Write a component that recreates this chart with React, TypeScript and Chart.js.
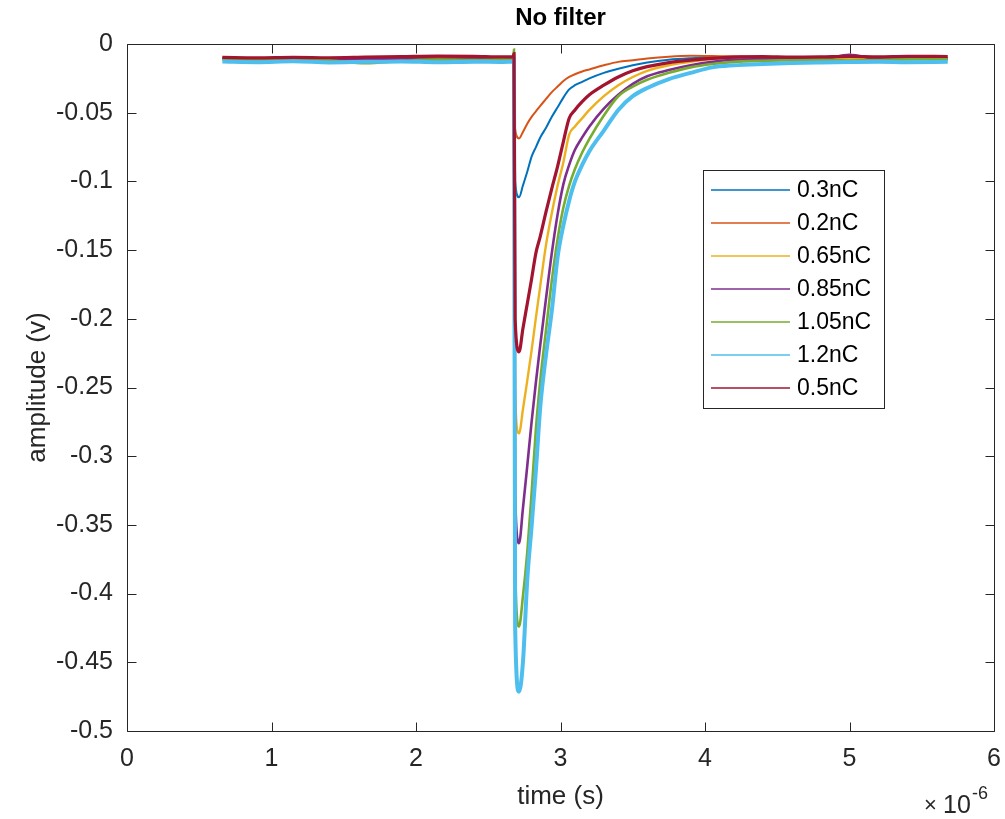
import React, { useEffect, useRef } from 'react';
import { Chart, registerables } from 'chart.js';

Chart.register(...registerables);

// ---------- data (time in microseconds, amplitude in volts) ----------
const timeUs = [
  0.66, 0.9, 1.15, 1.4, 1.65, 1.9, 2.15, 2.4, 2.6,
  2.672, 2.678, 2.686,
  2.713, 2.74, 2.77, 2.8, 2.83, 2.86, 2.9, 2.94, 2.98, 3.02, 3.06, 3.1, 3.15, 3.2,
  3.3, 3.4, 3.5, 3.6, 3.75, 3.9, 4.05, 4.2,
  4.4, 4.6, 4.8, 5.0, 5.2, 5.4, 5.68,
];

const v03nC = [
  -0.0105, -0.0102, -0.0108, -0.0104, -0.011, -0.0106, -0.0103, -0.0107, -0.0104,
  -0.0105, -0.008, -0.1,
  -0.1116, -0.103, -0.093, -0.082, -0.075, -0.068, -0.061, -0.053, -0.046, -0.039, -0.033, -0.03, -0.0275, -0.025,
  -0.021, -0.018, -0.0155, -0.0135, -0.0115, -0.0104, -0.0097, -0.0095,
  -0.0098, -0.0102, -0.01, -0.0104, -0.0099, -0.0103, -0.0101,
];
const v02nC = [
  -0.01, -0.0104, -0.0099, -0.0106, -0.0102, -0.0108, -0.0101, -0.0104, -0.01,
  -0.0102, -0.0075, -0.062,
  -0.0687, -0.064, -0.058, -0.053, -0.049, -0.045, -0.04, -0.035, -0.031, -0.027, -0.024, -0.022, -0.02, -0.0185,
  -0.0155, -0.013, -0.0118, -0.0105, -0.0092, -0.0086, -0.0088, -0.009,
  -0.0094, -0.0098, -0.0101, -0.0097, -0.0103, -0.01, -0.0102,
];
const v065nC = [
  -0.0108, -0.0112, -0.0106, -0.011, -0.0114, -0.0109, -0.0111, -0.0107, -0.011,
  -0.0109, -0.0085, -0.255,
  -0.2834, -0.266, -0.245, -0.223, -0.199, -0.176, -0.146, -0.123, -0.103, -0.086, -0.066, -0.06, -0.054, -0.048,
  -0.038, -0.03, -0.024, -0.0195, -0.0155, -0.013, -0.011, -0.01,
  -0.0104, -0.0108, -0.011, -0.0106, -0.0111, -0.0107, -0.0109,
];
const v085nC = [
  -0.0106, -0.011, -0.0104, -0.0112, -0.0108, -0.0105, -0.0111, -0.0107, -0.0103,
  -0.0106, -0.008, -0.327,
  -0.3634, -0.338, -0.307, -0.275, -0.246, -0.219, -0.185, -0.152, -0.124, -0.102, -0.088, -0.077, -0.068, -0.06,
  -0.047, -0.037, -0.029, -0.0235, -0.019, -0.0155, -0.013, -0.0115,
  -0.011, -0.0106, -0.0112, -0.0078, -0.0108, -0.0103, -0.0109,
];
const v105nC = [
  -0.0112, -0.0116, -0.011, -0.0118, -0.014, -0.0124, -0.0114, -0.0117, -0.0112,
  -0.0113, -0.004, -0.38,
  -0.424, -0.402, -0.37, -0.327, -0.28, -0.245, -0.208, -0.172, -0.142, -0.119, -0.103, -0.091, -0.079, -0.069,
  -0.052, -0.038, -0.031, -0.026, -0.021, -0.017, -0.0145, -0.013,
  -0.0122, -0.0118, -0.0114, -0.012, -0.0116, -0.0112, -0.011,
];
const v12nC = [
  -0.0128, -0.0132, -0.0126, -0.0134, -0.013, -0.0127, -0.0133, -0.0129, -0.0131,
  -0.0128, -0.011, -0.424,
  -0.4714, -0.45, -0.39, -0.351, -0.31, -0.264, -0.226, -0.194, -0.155, -0.132, -0.114, -0.1, -0.088, -0.078,
  -0.063, -0.048, -0.038, -0.032, -0.0255, -0.021, -0.017, -0.0155,
  -0.0145, -0.0138, -0.0134, -0.0131, -0.0129, -0.0132, -0.013,
];
const v05nC = [
  -0.0098, -0.0101, -0.0097, -0.01, -0.0096, -0.0092, -0.0088, -0.009, -0.0094,
  -0.0093, -0.007, -0.2,
  -0.224, -0.207, -0.189, -0.171, -0.152, -0.14, -0.122, -0.105, -0.089, -0.071, -0.054, -0.048, -0.042, -0.037,
  -0.03, -0.024, -0.0195, -0.0165, -0.0135, -0.0118, -0.0104, -0.0095,
  -0.0092, -0.0096, -0.0094, -0.009, -0.0093, -0.0089, -0.0091,
];

const seriesLabels = ['0.3nC', '0.2nC', '0.65nC', '0.85nC', '1.05nC', '1.2nC', '0.5nC'];
const seriesValues = [v03nC, v02nC, v065nC, v085nC, v105nC, v12nC, v05nC];
const seriesColors = ['#0072BD', '#D95319', '#EDB120', '#7E2F8E', '#77AC30', '#4DBEEE', '#A2142F'];
const seriesWidths = [2, 2, 2.4, 2.6, 2.6, 4, 3.2];

const xTickValues = [0, 1, 2, 3, 4, 5, 6];
const yTickValues = [0, -0.05, -0.1, -0.15, -0.2, -0.25, -0.3, -0.35, -0.4, -0.45, -0.5];

const chartTitle = 'No filter';
const xAxisTitle = 'time (s)';
const yAxisTitle = 'amplitude (v)';

const FONT = '"Liberation Sans", Arial, Helvetica, sans-serif';
const AX = '#262626';

const matlabPlugin = {
  id: 'matlabDecor',
  beforeDraw(chart: any) {
    const { ctx, width, height } = chart;
    ctx.save();
    ctx.fillStyle = '#ffffff';
    ctx.fillRect(0, 0, width, height);
    ctx.restore();
  },
  afterDraw(chart: any) {
    const { ctx, chartArea: a, scales } = chart;
    ctx.save();
    ctx.strokeStyle = AX;
    ctx.lineWidth = 1;
    const L = Math.round(a.left) + 0.5;
    const R = Math.round(a.right) + 0.5;
    const T = Math.round(a.top) + 0.5;
    const B = Math.round(a.bottom) + 0.5;
    ctx.beginPath();
    ctx.rect(L, T, R - L, B - T);
    ctx.stroke();
    const tl = 9;
    ctx.beginPath();
    xTickValues.forEach((v) => {
      const px = Math.round(scales.x.getPixelForValue(v)) + 0.5;
      ctx.moveTo(px, B); ctx.lineTo(px, B - tl);
      ctx.moveTo(px, T); ctx.lineTo(px, T + tl);
    });
    yTickValues.forEach((v) => {
      const py = Math.round(scales.y.getPixelForValue(v)) + 0.5;
      ctx.moveTo(L, py); ctx.lineTo(L + tl, py);
      ctx.moveTo(R, py); ctx.lineTo(R - tl, py);
    });
    ctx.stroke();

    // title
    ctx.fillStyle = '#000000';
    ctx.font = `bold 24px ${FONT}`;
    ctx.textAlign = 'center';
    ctx.textBaseline = 'middle';
    ctx.fillText(chartTitle, (a.left + a.right) / 2, 18);

    // exponent label
    ctx.fillStyle = AX;
    ctx.textAlign = 'left';
    ctx.textBaseline = 'alphabetic';
    ctx.font = `22px ${FONT}`;
    ctx.fillText('\u00d7', 924, 812);
    ctx.font = `25px ${FONT}`;
    ctx.fillText('10', 943, 813);
    ctx.font = `18px ${FONT}`;
    ctx.fillText('-6', 972, 799);

    // legend
    const lx = 703, ly = 170, lw = 181, lh = 238;
    ctx.fillStyle = '#ffffff';
    ctx.fillRect(lx, ly, lw, lh);
    ctx.strokeStyle = AX;
    ctx.lineWidth = 1;
    ctx.strokeRect(lx + 0.5, ly + 0.5, lw, lh);
    ctx.font = `23px ${FONT}`;
    ctx.textBaseline = 'middle';
    seriesLabels.forEach((lab, i) => {
      const y = 190 + i * 33;
      ctx.strokeStyle = seriesColors[i];
      ctx.lineWidth = 1.5;
      ctx.beginPath();
      ctx.moveTo(711, y);
      ctx.lineTo(790, y);
      ctx.stroke();
      ctx.fillStyle = '#000000';
      ctx.fillText(lab, 797, y + 1);
    });
    ctx.restore();
  },
};

export default function App() {
  const canvasRef = useRef<HTMLCanvasElement | null>(null);

  useEffect(() => {
    const canvas = canvasRef.current;
    if (!canvas) return;
    const datasets = seriesLabels.map((label, i) => ({
      label,
      data: timeUs.map((t, k) => ({ x: t, y: seriesValues[i][k] })),
      borderColor: seriesColors[i],
      backgroundColor: seriesColors[i],
      borderWidth: seriesWidths[i],
      pointRadius: 0,
      cubicInterpolationMode: 'monotone' as const,
      fill: false,
      order: seriesLabels.length - i,
    }));
    const chart = new Chart(canvas, {
      type: 'line',
      data: { datasets },
      options: {
        animation: false,
        responsive: false,
        maintainAspectRatio: false,
        devicePixelRatio: 1,
        parsing: false as any,
        layout: { padding: { top: 44, right: 11, bottom: 0, left: 0 } },
        plugins: {
          legend: { display: false },
          tooltip: { enabled: false },
          title: { display: false },
        },
        scales: {
          x: {
            type: 'linear',
            min: 0,
            max: 6,
            grid: { display: false, drawTicks: false },
            border: { display: false },
            ticks: {
              stepSize: 1,
              autoSkip: false,
              maxRotation: 0,
              padding: 13,
              color: AX,
              font: { family: FONT, size: 25 },
            },
            title: {
              display: true,
              text: xAxisTitle,
              color: AX,
              font: { family: FONT, size: 26 },
              padding: { top: 0, bottom: 7 },
            },
            afterFit: (s: any) => {
              s.height = 88;
              s.paddingLeft = 0;
              s.paddingRight = 0;
            },
          },
          y: {
            type: 'linear',
            min: -0.5,
            max: 0,
            grid: { display: false, drawTicks: false },
            border: { display: false },
            ticks: {
              stepSize: 0.05,
              autoSkip: false,
              padding: 14,
              color: AX,
              font: { family: FONT, size: 25 },
              callback: (v: any) => {
                const n = Math.round(Number(v) * 100) / 100;
                return n === 0 ? '0' : String(n);
              },
            },
            title: {
              display: true,
              text: yAxisTitle,
              color: AX,
              font: { family: FONT, size: 26 },
              padding: { top: 22, bottom: 0 },
            },
            afterFit: (s: any) => {
              s.width = 127;
              s.paddingTop = 0;
              s.paddingBottom = 0;
            },
          },
        },
      },
      plugins: [matlabPlugin],
    });
    return () => chart.destroy();
  }, []);

  return (
    <div style={{ position: 'fixed', left: 0, top: 0, width: 1005, height: 819, background: '#fff' }}>
      <canvas ref={canvasRef} width={1005} height={819} style={{ display: 'block' }} />
    </div>
  );
}
